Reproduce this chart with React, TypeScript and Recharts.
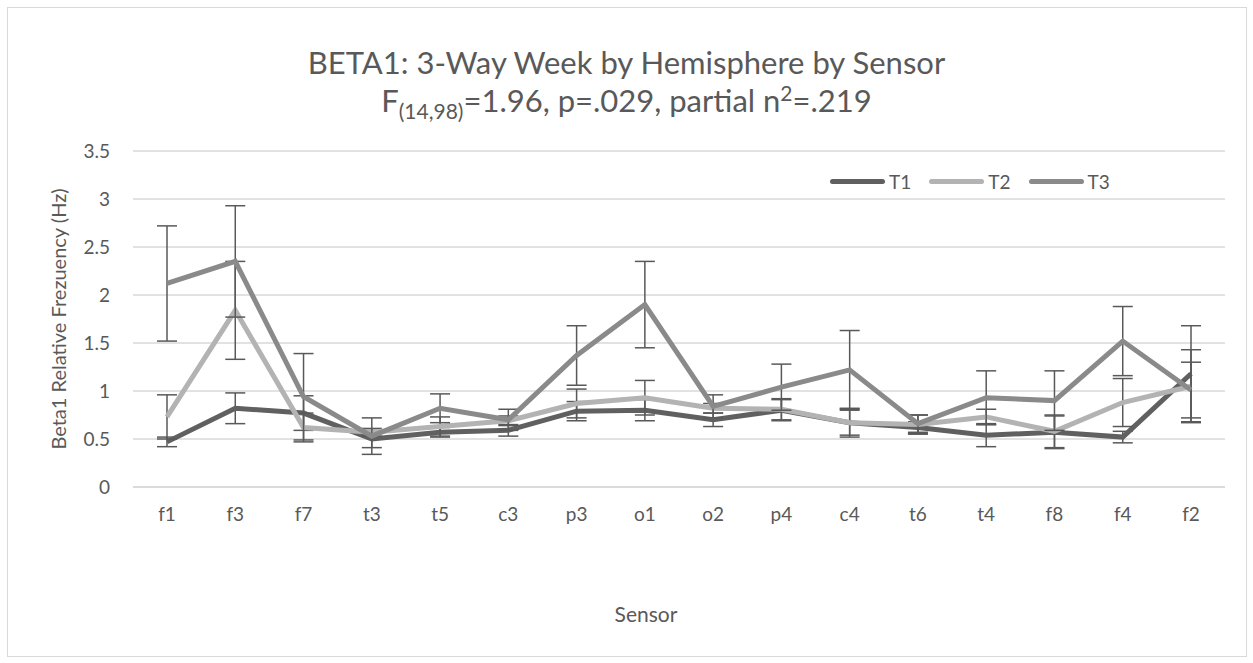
import { LineChart, Line, XAxis, YAxis, CartesianGrid, ErrorBar } from 'recharts';

const sensors = ['f1', 'f3', 'f7', 't3', 't5', 'c3', 'p3', 'o1', 'o2', 'p4', 'c4', 't6', 't4', 'f8', 'f4', 'f2'];

const t1 = [0.47, 0.82, 0.77, 0.5, 0.57, 0.59, 0.79, 0.8, 0.7, 0.8, 0.67, 0.62, 0.54, 0.57, 0.52, 1.18];
const t2 = [0.73, 1.84, 0.62, 0.57, 0.63, 0.69, 0.87, 0.93, 0.82, 0.81, 0.67, 0.65, 0.73, 0.58, 0.88, 1.05];
const t3 = [2.12, 2.35, 0.94, 0.53, 0.82, 0.7, 1.37, 1.9, 0.84, 1.04, 1.22, 0.66, 0.93, 0.9, 1.52, 1.01];

// +/- error per sensor
const t1Err = [0.05, 0.16, 0.18, 0.09, 0.05, 0.06, 0.1, 0.11, 0.07, 0.11, 0.15, 0.06, 0.12, 0.17, 0.06, 0.5];
const t2Err = [0.23, 0.51, 0.15, 0.04, 0.1, 0.05, 0.15, 0.18, 0.05, 0.11, 0.13, 0.1, 0.08, 0.17, 0.25, 0.38];
const t3Err = [0.6, 0.58, 0.45, 0.19, 0.15, 0.11, 0.31, 0.45, 0.12, 0.24, 0.41, 0.09, 0.28, 0.31, 0.36, 0.29];

const yTicks = [0, 0.5, 1, 1.5, 2, 2.5, 3, 3.5];

const SERIES = [
  { key: 'T1', err: 'T1err', color: '#606060' },
  { key: 'T2', err: 'T2err', color: '#b3b3b3' },
  { key: 'T3', err: 'T3err', color: '#8a8a8a' },
];

const data = sensors.map((s, i) => ({
  sensor: s,
  T1: t1[i],
  T2: t2[i],
  T3: t3[i],
  T1err: t1Err[i],
  T2err: t2Err[i],
  T3err: t3Err[i],
}));

const FONT = 'Lato, "Open Sans", sans-serif';
const TEXT = '#595959';

export default function App() {
  return (
    <div style={{ position: 'absolute', left: 0, top: 0, width: 1253, height: 663, background: '#fff', fontFamily: FONT }}>
      <div
        style={{
          position: 'absolute',
          left: 7,
          top: 7,
          width: 1238,
          height: 648,
          border: '1.5px solid #d9d9d9',
        }}
      />
      <div style={{ position: 'absolute', left: 0, width: 1253, top: 43, textAlign: 'center', color: TEXT, fontSize: 31, lineHeight: '38px' }}>
        <div>BETA1: 3-Way Week by Hemisphere by Sensor</div>
        <div>
          F<sub style={{ fontSize: 21, lineHeight: 0 }}>(14,98)</sub>=1.96, p=.029, partial n
          <sup style={{ fontSize: 21, lineHeight: 0 }}>2</sup>=.219
        </div>
      </div>

      <LineChart width={1253} height={663} data={data} margin={{ top: 151, right: 28, bottom: 146, left: 33 }}>
        <CartesianGrid vertical={false} stroke="#d9d9d9" strokeWidth={1.5} />
        <XAxis
          dataKey="sensor"
          padding={{ left: 34, right: 34 }}
          axisLine={{ stroke: '#d9d9d9', strokeWidth: 1.5 }}
          tickLine={false}
          tickMargin={15}
          tick={{ fill: TEXT, fontSize: 19, fontFamily: FONT }}
          interval={0}
        />
        <YAxis
          width={100}
          domain={[0, 3.5]}
          ticks={yTicks}
          axisLine={false}
          tickLine={false}
          tickMargin={17}
          tick={{ fill: TEXT, fontSize: 19, fontFamily: FONT }}
        />
        {SERIES.map((s) => (
          <Line
            key={s.key}
            dataKey={s.key}
            stroke={s.color}
            strokeWidth={5}
            dot={false}
            activeDot={false}
            isAnimationActive={false}
          >
            <ErrorBar dataKey={s.err} width={10} stroke="#595959" strokeWidth={1.5} direction="y" />
          </Line>
        ))}
      </LineChart>

      <div
        style={{
          position: 'absolute',
          left: 58,
          top: 319,
          transform: 'translate(-50%, -50%) rotate(-90deg)',
          whiteSpace: 'nowrap',
          color: TEXT,
          fontSize: 20,
        }}
      >
        Beta1 Relative Frezuency (Hz)
      </div>
      <div style={{ position: 'absolute', left: 646, top: 613, transform: 'translate(-50%, -50%)', color: TEXT, fontSize: 21 }}>
        Sensor
      </div>

      <div style={{ position: 'absolute', left: 830, top: 170, display: 'flex', alignItems: 'center', color: TEXT, fontSize: 19 }}>
        {SERIES.map((s) => (
          <div key={s.key} style={{ display: 'flex', alignItems: 'center', marginRight: 18 }}>
            <div style={{ width: 55, height: 5, borderRadius: 3, background: s.color, marginRight: 4 }} />
            <span>{s.key}</span>
          </div>
        ))}
      </div>
    </div>
  );
}
